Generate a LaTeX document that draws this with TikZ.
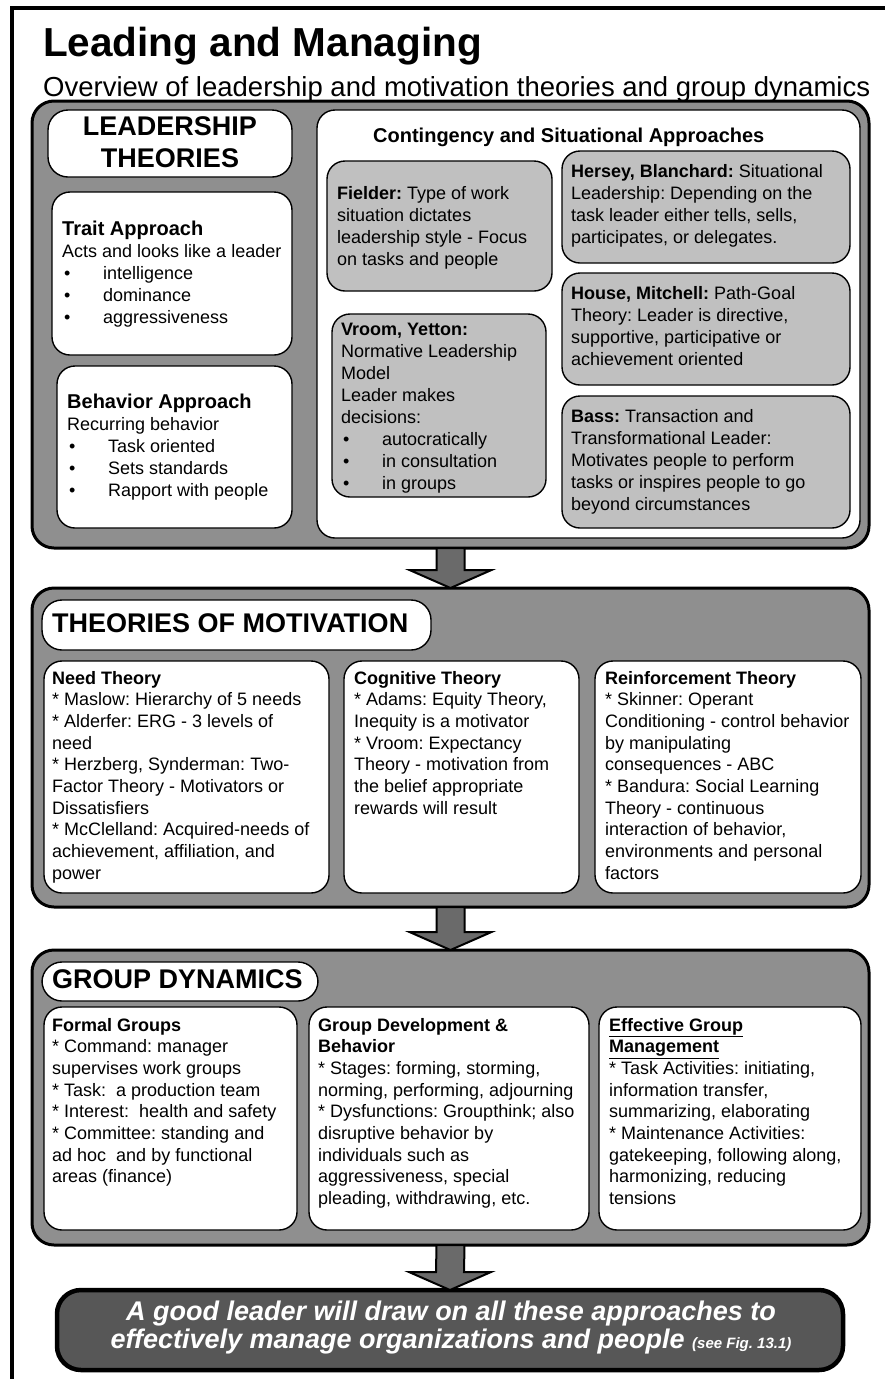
\documentclass[tikz,border=0pt]{standalone}
\usepackage{fontspec}
\setmainfont{Liberation Sans}
\usetikzlibrary{calc}
\frenchspacing
\definecolor{secgray}{HTML}{8F8F8F}
\definecolor{cardgray}{HTML}{C0C0C0}
\definecolor{arrowgray}{HTML}{6A6A6A}
\definecolor{finalgray}{HTML}{575757}

% rectangle node given by its corners (x1,y1)-(x2,y2)
\newcommand\boxnode[6]{%
  \pgfmathsetmacro\bnw{#5-#3}%
  \pgfmathsetmacro\bnh{#6-#4}%
  \node[#2, anchor=north west, inner sep=0pt, outer sep=0pt,
        minimum width=\bnw pt, minimum height=\bnh pt] (#1) at (#3,#4) {};}
% left-aligned block of lines; the point is the first baseline
\newcommand\txtnode[5]{%
  \node[#2, anchor=base west, inner sep=0pt] (#1) at (#3,#4)
    {\begin{tabular}[t]{@{}l@{}}#5\end{tabular}};}
\newcommand\bulletline[1]{\makebox[41pt][l]{\hspace{2pt}•}#1}
\newcommand\astmark{{*}\ }
% block arrow from the bottom of one section to the top of the next
\newcommand\blockarrowdown[2]{%
  \draw[blockarrow] ($(#1.south)+(-14,0)$) -- ($(#2.north)+(-14,-18)$)
    -- ($(#2.north)+(-41,-18)$) -- (#2.north) -- ($(#2.north)+(41,-18)$)
    -- ($(#2.north)+(14,-18)$) -- ($(#1.south)+(14,0)$) -- cycle;}

\begin{document}
\begin{tikzpicture}[x=1pt,y=-1pt,
  secbox/.style={draw=black, line width=3pt, fill=secgray, rounded corners=22pt},
  wbox/.style={draw=black, line width=1.4pt, fill=white, rounded corners=18pt},
  gbox/.style={draw=black, line width=1.4pt, fill=cardgray, rounded corners=18pt},
  headbox/.style={draw=black, line width=1.4pt, fill=white, rounded corners=20pt},
  finalbox/.style={draw=black, line width=4.5pt, fill=finalgray, rounded corners=24pt},
  blockarrow/.style={draw=black, line width=2pt, fill=arrowgray, line join=miter},
  body/.style={font=\fontsize{18}{22}\selectfont},
  bodyb/.style={font=\fontsize{18}{21.7}\selectfont},
  bighead/.style={font=\fontsize{27}{32}\selectfont\bfseries}
]
\useasboundingbox (0,0) rectangle (884,1379);
\fill[white] (0,0) rectangle (884,1379);

% page frame
\draw[line width=4pt, line join=miter] (12,1385) -- (12,8) -- (890,8);

% titles
\node[anchor=base west, inner sep=0pt, font=\fontsize{40.5}{48}\selectfont\bfseries]
  (title) at (43,56) {Leading and Managing};
\node[anchor=base west, inner sep=0pt, font=\fontsize{27.5}{32}\selectfont]
  (subtitle) at (43,96) {Overview of leadership and motivation theories and group dynamics};

% ---------------- leadership theories ----------------
\boxnode{sec1}{secbox}{32}{101}{869}{548}
\boxnode{lead}{headbox}{48}{110}{292}{177}
\boxnode{trait}{wbox}{52}{192}{292}{355}
\boxnode{behav}{wbox}{57}{366}{292}{528}
\boxnode{cont}{wbox}{317}{110}{860}{538}
\boxnode{fiel}{gbox}{327}{161}{552}{291}
\boxnode{vroom}{gbox}{332}{314}{546}{497}
\boxnode{hers}{gbox}{562}{151}{850}{263}
\boxnode{house}{gbox}{562}{273}{850}{385}
\boxnode{bass}{gbox}{562}{396}{850}{528}

\node[anchor=base, inner sep=0pt, bighead] (leadtxt) at (170,135)
  {\begin{tabular}[t]{@{}c@{}}LEADERSHIP\\THEORIES\end{tabular}};

\txtnode{traittxt}{body}{62}{235}{{\fontsize{20}{22}\selectfont\bfseries Trait Approach}\\
  Acts and looks like a leader\\
  \bulletline{intelligence}\\
  \bulletline{dominance}\\
  \bulletline{aggressiveness}}

\txtnode{behavtxt}{body}{67}{408}{{\fontsize{20}{22}\selectfont\bfseries Behavior Approach}\\
  Recurring behavior\\
  \bulletline{Task oriented}\\
  \bulletline{Sets standards}\\
  \bulletline{Rapport with people}}

\node[anchor=base west, inner sep=0pt, font=\fontsize{20}{22}\selectfont\bfseries]
  (conttxt) at (373,142) {Contingency and Situational Approaches};

\txtnode{fieltxt}{body}{337}{199}{\textbf{Fielder:} Type of work\\
  situation dictates\\
  leadership style - Focus\\
  on tasks and people}

\txtnode{vroomtxt}{body}{341}{335}{\textbf{Vroom, Yetton:}\\
  Normative Leadership\\
  Model\\
  Leader makes\\
  decisions:\\
  \bulletline{autocratically}\\
  \bulletline{in consultation}\\
  \bulletline{in groups}}

\txtnode{herstxt}{body}{571}{177}{\textbf{Hersey, Blanchard:} Situational\\
  Leadership: Depending on the\\
  task leader either tells, sells,\\
  participates, or delegates.}

\txtnode{housetxt}{body}{571}{299}{\textbf{House, Mitchell:} Path-Goal\\
  Theory: Leader is directive,\\
  supportive, participative or\\
  achievement oriented}

\txtnode{basstxt}{body}{571}{422}{\textbf{Bass:} Transaction and\\
  Transformational Leader:\\
  Motivates people to perform\\
  tasks or inspires people to go\\
  beyond circumstances}

% ---------------- theories of motivation ----------------
\boxnode{sec2}{secbox}{32}{588}{869}{907}
\boxnode{mothead}{headbox}{42}{600}{431}{650}
\boxnode{need}{wbox}{44}{661}{329}{893}
\boxnode{cogn}{wbox}{344}{661}{579}{893}
\boxnode{reinf}{wbox}{595}{661}{861}{893}

\node[anchor=base west, inner sep=0pt, bighead] (mottxt) at (52,632) {THEORIES OF MOTIVATION};

\txtnode{needtxt}{bodyb}{52}{684}{\textbf{Need Theory}\\
  \astmark Maslow: Hierarchy of 5 needs\\
  \astmark Alderfer: ERG - 3 levels of\\
  need\\
  \astmark Herzberg, Synderman: Two-\\
  Factor Theory - Motivators or\\
  Dissatisfiers\\
  \astmark McClelland: Acquired-needs of\\
  achievement, affiliation, and\\
  power}

\txtnode{cogntxt}{bodyb}{354}{684}{\textbf{Cognitive Theory}\\
  \astmark Adams: Equity Theory,\\
  Inequity is a motivator\\
  \astmark Vroom: Expectancy\\
  Theory - motivation from\\
  the belief appropriate\\
  rewards will result}

\txtnode{reinftxt}{bodyb}{605}{684}{\textbf{Reinforcement Theory}\\
  \astmark Skinner: Operant\\
  Conditioning - control behavior\\
  by manipulating\\
  consequences - ABC\\
  \astmark Bandura: Social Learning\\
  Theory - continuous\\
  interaction of behavior,\\
  environments and personal\\
  factors}

% ---------------- group dynamics ----------------
\boxnode{sec3}{secbox}{32}{950}{869}{1245}
\boxnode{grphead}{headbox}{42}{962}{318}{1001}
\boxnode{formal}{wbox}{44}{1007}{297}{1230}
\boxnode{gdev}{wbox}{309}{1007}{589}{1230}
\boxnode{effm}{wbox}{599}{1007}{861}{1230}

\node[anchor=base west, inner sep=0pt, bighead] (grptxt) at (52,988) {GROUP DYNAMICS};

\txtnode{formaltxt}{bodyb}{52}{1031}{\textbf{Formal Groups}\\
  \astmark Command: manager\\
  supervises work groups\\
  \astmark Task:\ \ a production team\\
  \astmark Interest:\ \ health and safety\\
  \astmark Committee: standing and\\
  ad hoc\ \ and by functional\\
  areas (finance)}

\txtnode{gdevtxt}{bodyb}{318}{1031}{\textbf{Group Development \&}\\
  \textbf{Behavior}\\
  \astmark Stages: forming, storming,\\
  norming, performing, adjourning\\
  \astmark Dysfunctions: Groupthink; also\\
  disruptive behavior by\\
  individuals such as\\
  aggressiveness, special\\
  pleading, withdrawing, etc.}

\txtnode{effmtxt}{bodyb}{609}{1031}{\textbf{\underline{Effective Group}}\\
  \textbf{\underline{Management}}\\
  \astmark Task Activities: initiating,\\
  information transfer,\\
  summarizing, elaborating\\
  \astmark Maintenance Activities:\\
  gatekeeping, following along,\\
  harmonizing, reducing\\
  tensions}

% ---------------- conclusion ----------------
\boxnode{final}{finalbox}{57}{1290}{843}{1370}
\node[anchor=base, inner sep=0pt, text=white,
      font=\fontsize{27}{28}\selectfont\bfseries\itshape] (finaltxt) at (451,1320)
  {\begin{tabular}[t]{@{}c@{}}A good leader will draw on all these approaches to\\
   effectively manage organizations and people {\fontsize{15}{18}\selectfont(see Fig. 13.1)}\end{tabular}};

% arrows between the sections
\blockarrowdown{sec1}{sec2}
\blockarrowdown{sec2}{sec3}
\blockarrowdown{sec3}{final}

\end{tikzpicture}
\end{document}
